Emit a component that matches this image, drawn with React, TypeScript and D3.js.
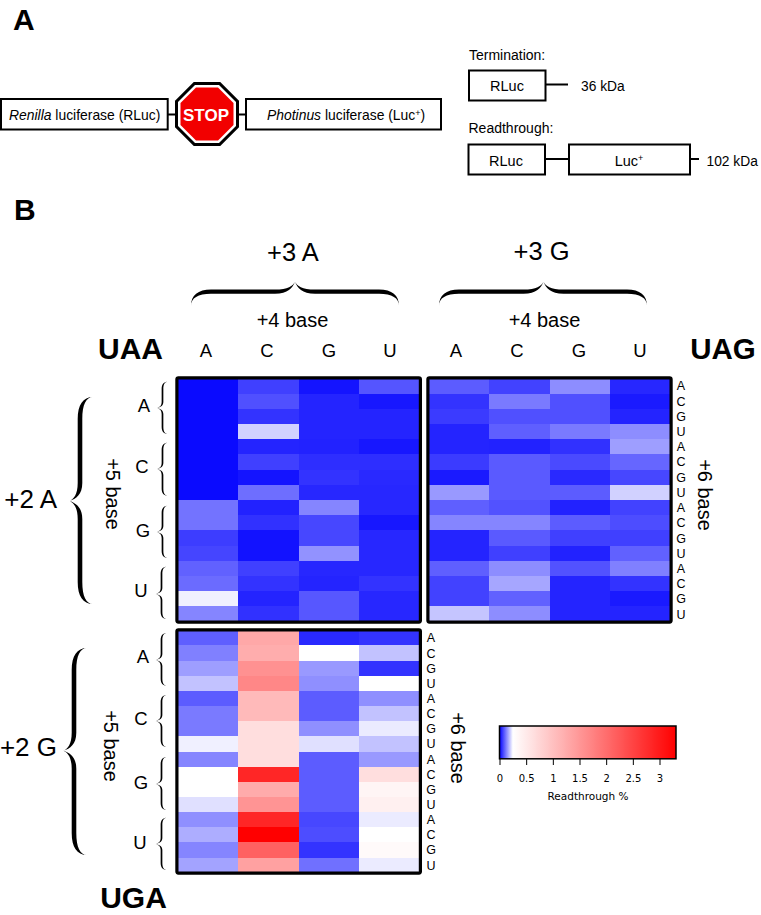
import React from "react";
import * as d3 from "d3";

const bases = ["A", "C", "G", "U"];
const sixthBases = d3.range(16).map((i) => bases[i % 4]);
const rowIds = d3.range(16);

// Readthrough %, rows = +5/+6 combination, columns = +4 base
const uaaValues = [
  [0.01, 0.063, 0.02, 0.083],
  [0.01, 0.078, 0.035, 0.023],
  [0.01, 0.05, 0.035, 0.035],
  [0.01, 0.205, 0.035, 0.035],
  [0.01, 0.035, 0.033, 0.023],
  [0.01, 0.063, 0.045, 0.045],
  [0.01, 0.02, 0.05, 0.04],
  [0.01, 0.108, 0.038, 0.038],
  [0.113, 0.033, 0.13, 0.038],
  [0.113, 0.048, 0.07, 0.023],
  [0.06, 0.018, 0.07, 0.038],
  [0.068, 0.018, 0.143, 0.038],
  [0.095, 0.063, 0.038, 0.038],
  [0.105, 0.05, 0.035, 0.05],
  [0.235, 0.035, 0.085, 0.038],
  [0.13, 0.048, 0.085, 0.038],
];
const uagValues = [
  [0.09, 0.065, 0.138, 0.038],
  [0.05, 0.12, 0.078, 0.025],
  [0.058, 0.078, 0.078, 0.035],
  [0.035, 0.093, 0.12, 0.138],
  [0.035, 0.033, 0.048, 0.155],
  [0.058, 0.088, 0.073, 0.1],
  [0.025, 0.088, 0.04, 0.07],
  [0.15, 0.088, 0.09, 0.205],
  [0.093, 0.08, 0.033, 0.065],
  [0.13, 0.13, 0.09, 0.075],
  [0.035, 0.088, 0.063, 0.063],
  [0.035, 0.063, 0.033, 0.095],
  [0.093, 0.138, 0.08, 0.125],
  [0.065, 0.163, 0.035, 0.05],
  [0.065, 0.095, 0.035, 0.025],
  [0.193, 0.138, 0.035, 0.035],
];
const ugaValues = [
  [0.093, 1.29, 0.04, 0.05],
  [0.125, 1.23, 0.25, 0.19],
  [0.155, 1.56, 0.15, 0.05],
  [0.19, 1.68, 0.14, 0.25],
  [0.09, 1.07, 0.09, 0.14],
  [0.12, 1.07, 0.09, 0.19],
  [0.12, 0.65, 0.14, 0.23],
  [0.235, 0.65, 0.22, 0.19],
  [0.13, 0.65, 0.09, 0.15],
  [0.25, 2.84, 0.09, 0.65],
  [0.25, 1.26, 0.09, 0.37],
  [0.22, 1.53, 0.09, 0.43],
  [0.14, 2.84, 0.07, 0.23],
  [0.17, 3.3, 0.075, 0.25],
  [0.13, 2.14, 0.05, 0.31],
  [0.16, 1.38, 0.11, 0.23],
];
const legendTicks = [0, 0.5, 1, 1.5, 2, 2.5, 3];

const color = d3
  .scaleLinear<string>()
  .domain([0, 0.25, 3.3])
  .range(["#0000ff", "#ffffff", "#ff0000"])
  .clamp(true);

const SANS = "'Liberation Sans', Arial, sans-serif";

function brace(
  s0: number,
  s1: number,
  sTip: number,
  pEnd: number,
  pBody: number,
  pTip: number,
  thick: number,
  r: number,
  r2: number,
  horizontal = false
) {
  const ctx = d3.path();
  const pt = (p: number, s: number): [number, number] => (horizontal ? [s, p] : [p, s]);
  const dir = Math.sign(pEnd - pTip);
  const bA = pBody - (dir * thick) / 2;
  const bB = pBody + (dir * thick) / 2;
  const move = (a: [number, number]) => ctx.moveTo(a[0], a[1]);
  const cub = (a: [number, number], b: [number, number], c: [number, number]) =>
    ctx.bezierCurveTo(a[0], a[1], b[0], b[1], c[0], c[1]);
  const line = (a: [number, number]) => ctx.lineTo(a[0], a[1]);
  move(pt(pEnd, s0));
  cub(pt(bA + 0.35 * (pEnd - bA), s0), pt(bA, s0 + 0.35 * r), pt(bA, s0 + r));
  line(pt(bA, sTip - r2));
  cub(pt(bA, sTip - 0.35 * r2), pt(bA + 0.5 * (pTip - bA), sTip - 0.1 * r2), pt(pTip, sTip));
  cub(pt(bA + 0.5 * (pTip - bA), sTip + 0.1 * r2), pt(bA, sTip + 0.35 * r2), pt(bA, sTip + r2));
  line(pt(bA, s1 - r));
  cub(pt(bA, s1 - 0.35 * r), pt(bA + 0.35 * (pEnd - bA), s1), pt(pEnd, s1));
  cub(pt(bB + 0.35 * (pEnd - bB), s1), pt(bB, s1 - 0.35 * r), pt(bB, s1 - r));
  line(pt(bB, sTip + r2));
  cub(pt(bB, sTip + 0.35 * r2), pt(bB + 0.5 * (pTip - bB), sTip + 0.12 * r2), pt(pTip, sTip));
  cub(pt(bB + 0.5 * (pTip - bB), sTip - 0.12 * r2), pt(bB, sTip - 0.35 * r2), pt(bB, sTip - r2));
  line(pt(bB, s0 + r));
  cub(pt(bB, s0 + 0.35 * r), pt(bB + 0.35 * (pEnd - bB), s0), pt(pEnd, s0));
  ctx.closePath();
  return ctx.toString();
}

function T(props: any) {
  const { x, y, size, weight, anchor, fill, family, rotate, children, style } = props;
  return (
    <text
      x={x}
      y={y}
      fontSize={size}
      fontWeight={weight || "normal"}
      textAnchor={anchor || "middle"}
      fill={fill || "#000"}
      fontFamily={family || SANS}
      transform={rotate ? `rotate(${rotate} ${x} ${y})` : undefined}
      style={style}
    >
      {children}
    </text>
  );
}

function Box({ x0, x1, y0, y1, w = 2 }: any) {
  return <rect x={x0} y={y0} width={x1 - x0} height={y1 - y0} fill="#fff" stroke="#000" strokeWidth={w} />;
}

function Heatmap({ values, x0, x1, y0, y1 }: any) {
  const x = d3.scaleBand<string>().domain(bases).range([x0, x1]);
  const y = d3.scaleBand<number>().domain(rowIds).range([y0, y1]);
  return (
    <g>
      {values.map((row: number[], i: number) =>
        row.map((v, j) => (
          <rect
            key={`${i}-${j}`}
            x={x(bases[j])}
            y={y(i)}
            width={x.bandwidth() + 0.5}
            height={y.bandwidth() + 0.5}
            fill={color(v)}
            shapeRendering="crispEdges"
          />
        ))
      )}
      <rect
        x={x0 - 0.4}
        y={y0 - 0.4}
        width={x1 - x0 + 0.8}
        height={y1 - y0 + 0.8}
        fill="none"
        stroke="#000"
        strokeWidth={3.2}
        rx={1.5}
      />
    </g>
  );
}

function octagon(cx: number, cy: number, r: number) {
  const k = r * 0.414;
  return [
    [cx - k, cy - r],
    [cx + k, cy - r],
    [cx + r, cy - k],
    [cx + r, cy + k],
    [cx + k, cy + r],
    [cx - k, cy + r],
    [cx - r, cy + k],
    [cx - r, cy - k],
  ]
    .map((p) => p.join(","))
    .join(" ");
}

export default function App() {
  const legendX = d3.scaleLinear().domain([0, 3.3]).range([500, 676]);
  const legendStops = d3.range(0, 3.3001, 0.05);
  const yUaa = d3.scaleBand<number>().domain(rowIds).range([378.3, 621.7]);
  const yUga = d3.scaleBand<number>().domain(rowIds).range([630.3, 872.7]);

  const colA = [206, 267, 329, 390];
  const colG = [457, 518, 580, 641];

  return (
    <svg
      width={761}
      height={915}
      viewBox="0 0 761 915"
      style={{ position: "absolute", left: 0, top: 0, display: "block" }}
    >
      <defs>
        <linearGradient id="cbar" x1="0" x2="1" y1="0" y2="0">
          {legendStops.map((v) => (
            <stop key={v} offset={`${(v / 3.3) * 100}%`} stopColor={color(v)} />
          ))}
        </linearGradient>
      </defs>

      {/* Panel A */}
      <T x={13} y={29.5} size={30} weight="bold" anchor="start">A</T>
      <line x1={167} x2={247} y1={114.5} y2={114.5} stroke="#000" strokeWidth={2} />
      <Box x0={1} x1={167.7} y0={99} y1={129.5} />
      <Box x0={246} x1={441} y0={99} y1={129.5} />
      <polygon points={octagon(207, 114, 32)} fill="#000" />
      <polygon points={octagon(207, 114, 29)} fill="#fff" />
      <polygon points={octagon(207, 114, 26.5)} fill="#f20000" />
      <T x={206} y={120.7} size={17} weight="bold" fill="#fff">STOP</T>
      <T x={9} y={120} size={13.9} anchor="start">
        <tspan fontStyle="italic">Renilla</tspan> luciferase (RLuc)
      </T>
      <T x={267} y={120} size={13.9} anchor="start">
        <tspan fontStyle="italic">Photinus</tspan> luciferase (Luc
        <tspan dy={-4} fontSize={9}>+</tspan>
        <tspan dy={4}>)</tspan>
      </T>

      <T x={469} y={60} size={14} anchor="start">Termination:</T>
      <line x1={545} x2={568} y1={84.5} y2={84.5} stroke="#000" strokeWidth={2} />
      <Box x0={469} x1={545.5} y0={70.5} y1={100.5} />
      <T x={507} y={90.5} size={14.5}>RLuc</T>
      <T x={581} y={90.5} size={13.8} anchor="start">36 kDa</T>

      <T x={468.5} y={132.5} size={14} anchor="start">Readthrough:</T>
      <line x1={545} x2={570} y1={159} y2={159} stroke="#000" strokeWidth={2} />
      <line x1={690} x2={699} y1={159} y2={159} stroke="#000" strokeWidth={2} />
      <Box x0={468.5} x1={545} y0={144.5} y1={174.5} />
      <Box x0={569} x1={690} y0={144.5} y1={174.5} />
      <T x={506} y={166} size={14.5}>RLuc</T>
      <T x={629} y={166} size={14.5}>
        Luc<tspan dy={-5} fontSize={9}>+</tspan>
      </T>
      <T x={706.5} y={166} size={13.8} anchor="start">102 kDa</T>

      {/* Panel B */}
      <T x={14} y={220} size={30} weight="bold" anchor="start">B</T>

      <T x={293} y={261} size={25.5}>+3 A</T>
      <T x={541.5} y={259.5} size={25.5}>+3 G</T>
      <path d={brace(191, 399, 295, 306, 291.7, 281.7, 4.2, 20, 20, true)} fill="#000" />
      <path d={brace(439, 647, 543.5, 306, 291.7, 281.7, 4.2, 20, 20, true)} fill="#000" />
      <T x={292.5} y={327} size={20}>+4 base</T>
      <T x={544.5} y={327} size={20}>+4 base</T>

      {bases.map((b, i) => (
        <T key={`a${b}`} x={colA[i]} y={356.5} size={18.5}>{b}</T>
      ))}
      {bases.map((b, i) => (
        <T key={`g${b}`} x={colG[i] - 1} y={356.5} size={18.5}>{b}</T>
      ))}

      <T x={130.5} y={359} size={30} weight="bold">UAA</T>
      <T x={723} y={359} size={29.5} weight="bold">UAG</T>
      <T x={133.5} y={908} size={30} weight="bold">UGA</T>

      <Heatmap values={uaaValues} x0={177.3} x1={420} y0={378.3} y1={621.7} />
      <Heatmap values={uagValues} x0={428.3} x1={670.7} y0={378.3} y1={621.7} />
      <Heatmap values={ugaValues} x0={177.3} x1={420} y0={630.3} y1={872.7} />

      {sixthBases.map((b, i) => (
        <T key={`r1${i}`} x={681} y={yUaa(i)! + yUaa.bandwidth() / 2 + 4.5} size={12.5}>{b}</T>
      ))}
      {sixthBases.map((b, i) => (
        <T key={`r2${i}`} x={431} y={yUga(i)! + yUga.bandwidth() / 2 + 4.5} size={12.5}>{b}</T>
      ))}

      <T x={57} y={508} size={26} anchor="end">+2 A</T>
      <T x={57} y={756} size={26} anchor="end">+2 G</T>
      <path d={brace(397, 604, 501, 93, 80, 69.5, 4.6, 22, 18)} fill="#000" />
      <path d={brace(648, 855, 750.7, 87, 74, 63.5, 4.6, 22, 18)} fill="#000" />

      <T x={105.5} y={494} size={20} rotate={90}>+5 base</T>
      <T x={103.5} y={746} size={20} rotate={90}>+5 base</T>
      <T x={698} y={495} size={20} rotate={90}>+6 base</T>
      <T x={451} y={748} size={20} rotate={90}>+6 base</T>

      {[
        [144, 411.5, "A"],
        [142, 472.5, "C"],
        [143, 536.5, "G"],
        [141, 596.5, "U"],
        [143, 663, "A"],
        [141, 724.5, "C"],
        [141, 788.5, "G"],
        [140, 848.5, "U"],
      ].map(([x, y, t], i) => (
        <T key={`grp${i}`} x={x} y={y} size={18.5}>{t}</T>
      ))}

      {[
        [381.7, 434, 408, 168, 162.5, 157],
        [442.7, 495.7, 469, 168, 162.5, 157],
        [505.7, 558, 532, 168, 162.5, 156.5],
        [566.7, 619, 594, 167, 161.5, 155.5],
        [633, 685.7, 660, 167, 161.5, 155.5],
        [695, 747, 721, 167, 161.5, 155.5],
        [757, 810, 784, 167, 161.5, 155.5],
        [817.7, 870, 844, 167, 161.5, 155.5],
      ].map(([a, b, c, e, m, tip], i) => (
        <path key={`sb${i}`} d={brace(a, b, c, e, m, tip, 1.7, 7, 6)} fill="#000" />
      ))}

      {/* Colour legend */}
      <rect x={499.5} y={726} width={176.5} height={32.8} fill="url(#cbar)" stroke="#000" strokeWidth={1.5} />
      {legendTicks.map((t) => (
        <g key={t}>
          <line x1={legendX(t)} x2={legendX(t)} y1={759} y2={765} stroke="#000" strokeWidth={1} />
          <T x={legendX(t)} y={782} size={10} family="'DejaVu Sans', sans-serif">{t}</T>
        </g>
      ))}
      <T x={588} y={800} size={10.5} family="'DejaVu Sans', sans-serif">Readthrough %</T>
    </svg>
  );
}
